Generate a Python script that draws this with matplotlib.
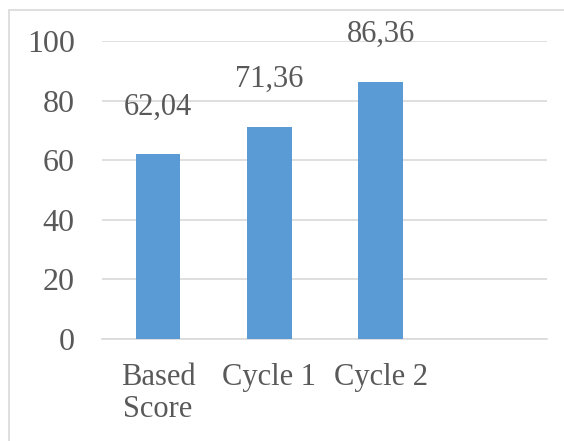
import matplotlib.pyplot as plt
from matplotlib.patches import Rectangle

categories = ["Based\nScore", "Cycle 1", "Cycle 2"]
scores = [62.04, 71.36, 86.36]
score_labels = ["62,04", "71,36", "86,36"]
y_ticks = [0, 20, 40, 60, 80, 100]

text_color = "#595959"
grid_color = "#d9d9d9"
bar_color = "#5b9bd5"

plt.rcParams["font.family"] = ["Liberation Serif", "DejaVu Serif"]

fig = plt.figure(figsize=(5.64, 4.41), dpi=100)

# light chart-area border (runs off the right and bottom edges)
fig.patches.append(
    Rectangle(
        (9 / 564, -0.1),
        1.2,
        (441 - 10) / 441 + 0.1,
        transform=fig.transFigure,
        fill=False,
        edgecolor=grid_color,
        linewidth=1.2,
    )
)

ax = fig.add_axes([0.1817, 0.2313, 0.789, 0.675])

x = list(range(len(categories)))
bars = ax.bar(x, scores, width=0.40, color=bar_color, zorder=3)

for bar, label in zip(bars, score_labels):
    ax.annotate(
        label,
        (bar.get_x() + bar.get_width() / 2, bar.get_height()),
        xytext=(0, 23.5),
        textcoords="offset points",
        ha="center",
        va="bottom",
        fontsize=22,
        color=text_color,
    )

ax.set_xlim(-0.5, 3.5)
ax.set_ylim(0, 100)
ax.set_yticks(y_ticks)
ax.set_xticks(x)
ax.set_xticklabels(categories, linespacing=1.15)

ax.grid(axis="y", color=grid_color, linewidth=1.2, zorder=0)
ax.set_axisbelow(True)
for side in ["top", "right", "left"]:
    ax.spines[side].set_visible(False)
ax.spines["bottom"].set_color(grid_color)
ax.spines["bottom"].set_linewidth(1.2)

ax.tick_params(axis="y", length=0, pad=20, labelsize=23, labelcolor=text_color)
ax.tick_params(axis="x", length=0, pad=17, labelsize=22, labelcolor=text_color)

plt.savefig("out.png", dpi=100)
